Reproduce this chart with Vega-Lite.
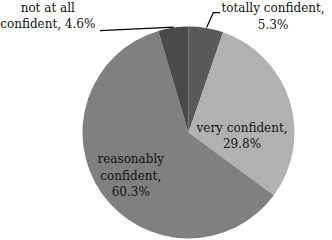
{
  "$schema": "https://vega.github.io/schema/vega-lite/v6.json",
  "width": 287,
  "height": 215,
  "padding": {"left": 45, "top": 25, "right": 0, "bottom": 0},
  "autosize": {"type": "none"},
  "background": "white",
  "config": {"view": {"stroke": null}},
  "data": {
    "values": [
      {"cat": "totally confident", "pct": 5.3, "ord": 1, "label": "totally confident,\n5.3%"},
      {"cat": "very confident", "pct": 29.8, "ord": 2, "label": "very confident,\n29.8%"},
      {"cat": "reasonably confident", "pct": 60.3, "ord": 3, "label": "reasonably\nconfident,\n60.3%"},
      {"cat": "not at all confident", "pct": 4.6, "ord": 4, "label": "not at all\nconfident, 4.6%"}
    ]
  },
  "encoding": {
    "theta": {"field": "pct", "type": "quantitative", "stack": true},
    "order": {"field": "ord", "type": "quantitative"}
  },
  "layer": [
    {
      "mark": {"type": "arc", "radius": 106, "stroke": null},
      "encoding": {
        "color": {
          "field": "cat",
          "type": "nominal",
          "scale": {
            "domain": ["totally confident", "very confident", "reasonably confident", "not at all confident"],
            "range": ["#595959", "#b1b1b1", "#808080", "#4a4a4a"]
          },
          "legend": null
        }
      }
    },
    {
      "mark": {"type": "text", "radius": 73, "dx": 2, "dy": -15, "font": "DejaVu Serif", "fontSize": 12, "lineHeight": 16.5, "lineBreak": "\n", "align": "center", "baseline": "middle", "color": "#111111"},
      "encoding": {"text": {"condition": {"test": "datum.cat === 'reasonably confident'", "field": "label"}, "value": ""}}
    },
    {
      "mark": {"type": "text", "radius": 55, "dx": 1, "dy": 11.75, "font": "DejaVu Serif", "fontSize": 12, "lineHeight": 16.5, "lineBreak": "\n", "align": "center", "baseline": "middle", "color": "#111111"},
      "encoding": {"text": {"condition": {"test": "datum.cat === 'very confident'", "field": "label"}, "value": ""}}
    },
    {
      "mark": {"type": "text", "radius": 130, "dx": 63, "dy": 3.75, "font": "DejaVu Serif", "fontSize": 12, "lineHeight": 16.5, "lineBreak": "\n", "align": "center", "baseline": "middle", "color": "#111111"},
      "encoding": {"text": {"condition": {"test": "datum.cat === 'totally confident'", "field": "label"}, "value": ""}}
    },
    {
      "mark": {"type": "text", "radius": 130, "dx": -122, "dy": 3.75, "font": "DejaVu Serif", "fontSize": 12, "lineHeight": 16.5, "lineBreak": "\n", "align": "center", "baseline": "middle", "color": "#111111"},
      "encoding": {"text": {"condition": {"test": "datum.cat === 'not at all confident'", "field": "label"}, "value": ""}}
    },
    {
      "data": {
        "values": [
          {"lead": "not at all confident", "pt": 1, "lx": -88.5, "ly": 101.8},
          {"lead": "not at all confident", "pt": 2, "lx": -14.8, "ly": 105.4},
          {"lead": "totally confident", "pt": 1, "lx": 18.1, "ly": 105},
          {"lead": "totally confident", "pt": 2, "lx": 24.8, "ly": 119.8},
          {"lead": "totally confident", "pt": 3, "lx": 31.5, "ly": 119.8}
        ]
      },
      "mark": {"type": "line", "color": "black", "strokeWidth": 1.2},
      "encoding": {
        "theta": null,
        "x": {"field": "lx", "type": "quantitative", "scale": {"domain": [-143.5, 143.5], "nice": false, "zero": false}, "axis": null},
        "y": {"field": "ly", "type": "quantitative", "scale": {"domain": [-107.5, 107.5], "nice": false, "zero": false}, "axis": null},
        "detail": {"field": "lead", "type": "nominal"},
        "order": {"field": "pt", "type": "quantitative"}
      }
    }
  ]
}
